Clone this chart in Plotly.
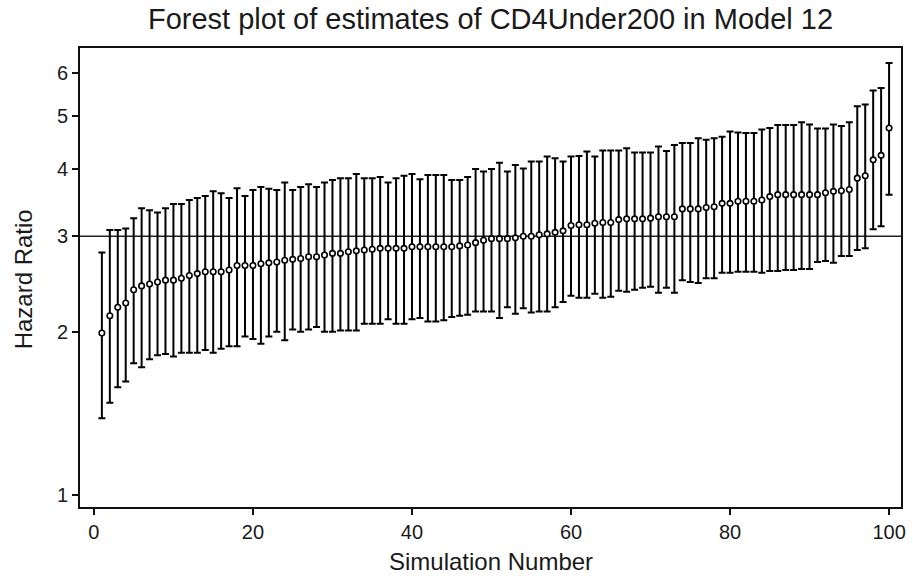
import plotly.graph_objects as go

sim = list(range(1, 101))

estimate = [
    1.99, 2.14, 2.22, 2.26, 2.39, 2.43, 2.45, 2.47, 2.49, 2.49,
    2.51, 2.54, 2.56, 2.58, 2.58, 2.58, 2.60, 2.65, 2.65, 2.65,
    2.67, 2.68, 2.69, 2.71, 2.72, 2.73, 2.75, 2.75, 2.77, 2.79,
    2.79, 2.81, 2.82, 2.83, 2.84, 2.85, 2.85, 2.85, 2.85, 2.87,
    2.87, 2.87, 2.87, 2.87, 2.87, 2.88, 2.89, 2.92, 2.95, 2.97,
    2.97, 2.97, 2.98, 3.00, 3.00, 3.02, 3.03, 3.05, 3.07, 3.14,
    3.15, 3.15, 3.17, 3.18, 3.18, 3.22, 3.23, 3.23, 3.23, 3.24,
    3.26, 3.26, 3.26, 3.37, 3.37, 3.37, 3.39, 3.40, 3.45, 3.45,
    3.48, 3.48, 3.48, 3.50, 3.55, 3.58, 3.58, 3.58, 3.58, 3.58,
    3.58, 3.61, 3.63, 3.64, 3.66, 3.84, 3.88, 4.15, 4.23, 4.75,
]

upper = [
    2.80, 3.08, 3.08, 3.10, 3.24, 3.38, 3.35, 3.32, 3.38, 3.44,
    3.44, 3.50, 3.53, 3.56, 3.63, 3.60, 3.53, 3.68, 3.56, 3.65,
    3.70, 3.67, 3.65, 3.77, 3.65, 3.70, 3.74, 3.70, 3.77, 3.81,
    3.84, 3.84, 3.91, 3.84, 3.84, 3.86, 3.77, 3.84, 3.88, 3.91,
    3.82, 3.89, 3.89, 3.89, 3.81, 3.81, 3.86, 3.99, 3.95, 3.99,
    4.10, 3.95, 4.06, 4.00, 4.12, 4.12, 4.21, 4.18, 4.12, 4.21,
    4.22, 4.30, 4.21, 4.32, 4.32, 4.32, 4.36, 4.28, 4.28, 4.28,
    4.39, 4.31, 4.42, 4.46, 4.46, 4.55, 4.52, 4.55, 4.58, 4.68,
    4.66, 4.65, 4.65, 4.72, 4.75, 4.81, 4.81, 4.81, 4.87, 4.82,
    4.74, 4.74, 4.82, 4.79, 4.87, 5.21, 5.25, 5.57, 5.63, 6.26,
]

lower = [
    1.385, 1.48, 1.58, 1.62, 1.75, 1.72, 1.78, 1.81, 1.82, 1.80,
    1.83, 1.83, 1.83, 1.85, 1.83, 1.86, 1.88, 1.88, 1.96, 1.94,
    1.90, 1.96, 2.00, 1.93, 2.02, 2.00, 2.02, 2.04, 2.00, 2.00,
    2.01, 2.01, 2.01, 2.07, 2.07, 2.07, 2.11, 2.07, 2.07, 2.11,
    2.12, 2.09, 2.09, 2.10, 2.13, 2.14, 2.15, 2.18, 2.18, 2.18,
    2.12, 2.22, 2.16, 2.21, 2.17, 2.18, 2.18, 2.22, 2.27, 2.33,
    2.31, 2.31, 2.35, 2.31, 2.32, 2.38, 2.37, 2.39, 2.41, 2.42,
    2.36, 2.41, 2.36, 2.49, 2.47, 2.46, 2.51, 2.51, 2.57, 2.57,
    2.58, 2.58, 2.58, 2.57, 2.59, 2.59, 2.60, 2.60, 2.61, 2.61,
    2.69, 2.70, 2.68, 2.76, 2.76, 2.83, 2.85, 3.09, 3.13, 3.58,
]

x_ticks = [0, 20, 40, 60, 80, 100]
y_ticks = [1, 2, 3, 4, 5, 6]
reference_hr = 3

err_plus = [u - e for u, e in zip(upper, estimate)]
err_minus = [e - l for e, l in zip(estimate, lower)]

FONT = "Liberation Sans, Arial, sans-serif"
TXT = "#1a1a1a"

fig = go.Figure()
fig.add_trace(go.Scatter(
    x=sim, y=estimate, mode="markers",
    marker=dict(symbol="circle", size=5.5, color="white",
                line=dict(color="#000000", width=1.6)),
    error_y=dict(type="data", array=err_plus, arrayminus=err_minus,
                 color="#000000", thickness=2, width=3.5),
    showlegend=False,
))

fig.add_shape(type="line", xref="paper", x0=0, x1=1, yref="y",
              y0=reference_hr, y1=reference_hr,
              line=dict(color="#222222", width=1.3), layer="below")

fig.update_layout(
    width=913, height=576,
    margin=dict(l=80, r=7, t=48, b=69),
    paper_bgcolor="white", plot_bgcolor="white",
    font=dict(family=FONT, color=TXT, size=20),
    title=dict(text="Forest plot of estimates of CD4Under200 in Model 12",
               x=0.5, xref="paper", y=1 - 19 / 576, yref="container",
               xanchor="center", yanchor="middle",
               font=dict(family=FONT, size=29, color=TXT)),
    xaxis=dict(range=[-1.75, 101.5], tickvals=x_ticks,
               ticks="outside", ticklen=6, tickwidth=1.5, tickcolor="#111",
               showline=True, linecolor="#111", linewidth=2, mirror=True,
               showgrid=False, zeroline=False,
               tickfont=dict(size=20, color=TXT)),
    yaxis=dict(type="log", range=[-0.02213, 0.8243],
               tickvals=y_ticks, ticktext=[str(v) for v in y_ticks],
               ticks="outside", ticklen=6, tickwidth=1.5, tickcolor="#111",
               showline=True, linecolor="#111", linewidth=2, mirror=True,
               showgrid=False, zeroline=False,
               tickfont=dict(size=20, color=TXT)),
    annotations=[
        dict(text="Simulation Number", xref="paper", yref="paper",
             x=0.5, y=-(561 - 507) / 459, xanchor="center", yanchor="middle",
             showarrow=False, font=dict(family=FONT, size=24, color=TXT)),
        dict(text="Hazard Ratio", xref="paper", yref="paper",
             x=(23 - 80) / 826, y=(507 - 279) / 459, textangle=-90,
             xanchor="center", yanchor="middle",
             showarrow=False, font=dict(family=FONT, size=24, color=TXT)),
    ],
)

fig.write_html("out.html")
